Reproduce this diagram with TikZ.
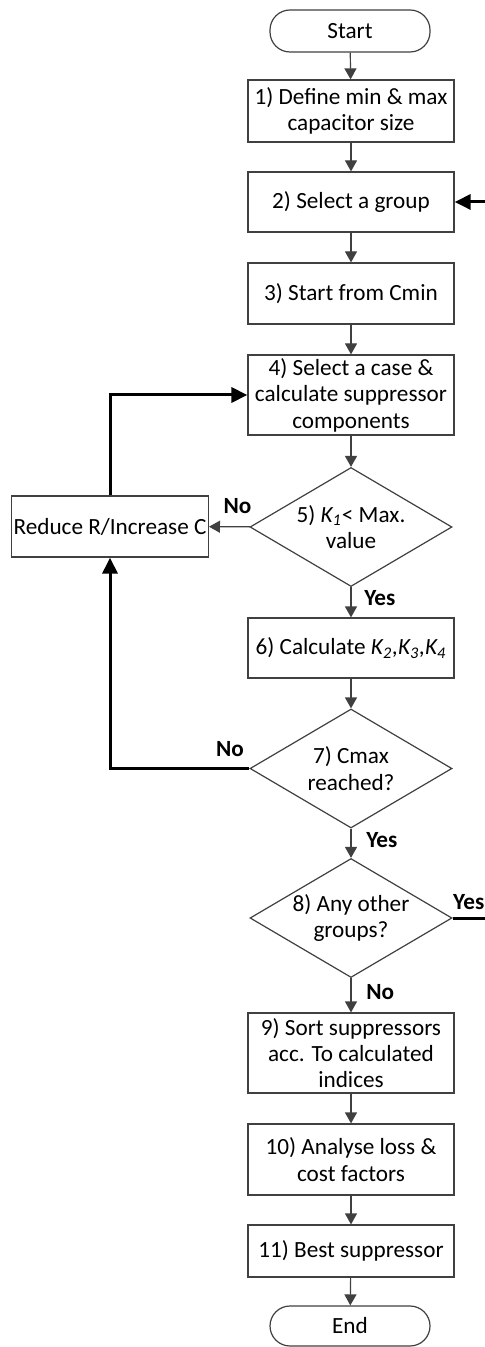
\documentclass[tikz,border=0pt]{standalone}
\usepackage{fontspec}
\setmainfont{Carlito}
\usetikzlibrary{shapes.geometric,arrows.meta}

\newlength{\du}
\setlength{\du}{0.5pt}
\definecolor{boxlinecolor}{rgb}{0.250000, 0.250000, 0.250000}
\definecolor{flowcolor}{rgb}{0.250000, 0.250000, 0.250000}

\tikzset{
  textfont/.style={font=\fontsize{11.6}{13.2}\selectfont},
  stepbox/.style={draw=boxlinecolor, line width=0.6pt, fill=white, textfont,
    align=center, inner sep=1pt, minimum width=206\du},
  termbox/.style={stepbox, minimum width=160\du, rounded corners=20\du},
  testbox/.style={diamond, draw=boxlinecolor, line width=0.6pt, fill=white, textfont,
    align=center, inner sep=0pt, aspect=1.7, minimum width=202\du, minimum height=119\du},
  flow/.style={draw=flowcolor, line width=0.6pt, -{Triangle[width=6pt,length=5.5pt]}},
  backflow/.style={draw=black, line width=1.5pt, -{Triangle[width=7.5pt,length=8pt]}},
  answer/.style={font=\fontsize{11.6}{13.2}\selectfont\bfseries}
}

\begin{document}
\begin{tikzpicture}[yscale=-1]
\useasboundingbox (0\du,0\du) rectangle (485\du,1347\du);

% main column
\node[termbox, minimum height=42\du] (start) at (350\du,31\du) {Start};
\node[stepbox, minimum height=62\du] (define) at (351\du,111\du) {1) Define min \& max\\capacitor size};
\node[stepbox, minimum height=60\du] (group) at (351\du,202\du) {2) Select a group};
\node[stepbox, minimum height=61\du] (cmin) at (351\du,293.5\du) {3) Start from Cmin};
\node[stepbox, minimum height=80\du] (case) at (351\du,395\du) {4) Select a case \&\\calculate suppressor\\components};
\node[testbox] (kone) at (351\du,527\du) {5) \textit{K\textsubscript{1}}< Max.\\value};
\node[stepbox, minimum height=60\du] (kcalc) at (351\du,648\du) {6) Calculate \textit{K\textsubscript{2},K\textsubscript{3},K\textsubscript{4}}};
\node[testbox] (cmax) at (351\du,768.5\du) {7) Cmax\\reached?};
\node[testbox] (other) at (351\du,918\du) {8) Any other\\groups?};
\node[stepbox, minimum height=80\du] (sort) at (351\du,1053\du) {9) Sort suppressors\\acc. To calculated\\indices};
\node[stepbox, minimum height=71\du] (loss) at (351\du,1159.5\du) {10) Analyse loss \&\\cost factors};
\node[stepbox, minimum height=52\du] (best) at (351\du,1251\du) {11) Best suppressor};
\node[termbox, minimum height=40\du] (end) at (350\du,1326\du) {End};

% side box
\node[stepbox, minimum width=194\du, minimum height=61\du] (reduce) at (110\du,526.5\du) {Reduce R/Increase C};

% loop back to group selection, beyond the right edge
\coordinate (otherout) at (485\du,918\du);
\coordinate (groupin) at (485\du,202\du);

\draw[flow] (start) -- (define);
\draw[flow] (define) -- (group);
\draw[flow] (group) -- (cmin);
\draw[flow] (cmin) -- (case);
\draw[flow] (case) -- (kone);
\draw[flow] (kone) -- node[answer, right, pos=0.35, xshift=3pt] {Yes} (kcalc);
\draw[flow] (kone) -- node[answer, above, pos=0.3, yshift=3pt] {No} (reduce);
\draw[flow] (kcalc) -- (cmax);
\draw[flow] (cmax) -- node[answer, right, pos=0.4, xshift=4pt] {Yes} (other);
\draw[flow] (other) -- node[answer, right, pos=0.4, xshift=4pt] {No} (sort);
\draw[flow] (sort) -- (loss);
\draw[flow] (loss) -- (best);
\draw[flow] (best) -- (end);

\draw[backflow] (reduce.north) |- (case.west);
\draw[backflow] (cmax.west) -| node[answer, above=2pt, pos=0.07] {No} (reduce.south);
\draw[draw=black, line width=1.5pt] (other.east) -- node[answer, above] {Yes} (otherout);
\draw[backflow] (groupin) -- (group.east);
\end{tikzpicture}
\end{document}
